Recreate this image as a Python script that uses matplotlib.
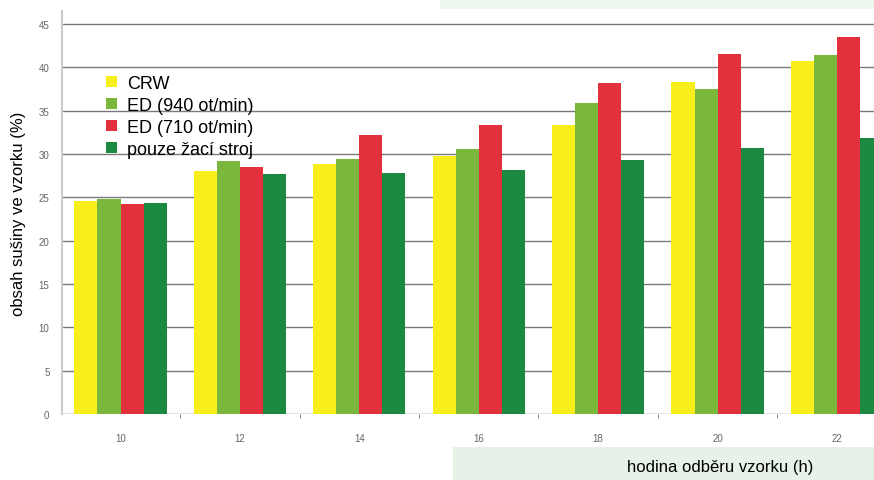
import matplotlib.pyplot as plt
from matplotlib.patches import Rectangle
import numpy as np

# -----------------------------
# DATA
# -----------------------------
hours = ["10", "12", "14", "16", "18", "20", "22"]
crw = [24.6, 28.0, 28.8, 29.8, 33.3, 38.3, 40.7]
ed_940 = [24.8, 29.2, 29.4, 30.6, 35.9, 37.5, 41.4]
ed_710 = [24.2, 28.5, 32.2, 33.3, 38.2, 41.5, 43.5]
zaci_stroj = [24.4, 27.7, 27.8, 28.1, 29.3, 30.7, 31.9]

series = [
    ("CRW", crw, "#f7ee1c"),
    ("ED (940 ot/min)", ed_940, "#79b83c"),
    ("ED (710 ot/min)", ed_710, "#e2303c"),
    ("pouze žací stroj", zaci_stroj, "#1b8a40"),
]
y_ticks = [0, 5, 10, 15, 20, 25, 30, 35, 40, 45]

plt.rcParams["font.family"] = ["Liberation Sans", "DejaVu Sans"]

fig = plt.figure(figsize=(8.74, 4.81), dpi=100)

# light mint panels from the scanned page
fig.patches.append(Rectangle((453 / 874, 0), 1, 33 / 481, transform=fig.transFigure,
                             facecolor="#e6f2e8", edgecolor="none", zorder=0))
fig.patches.append(Rectangle((440 / 874, 1 - 10 / 481), 1, 10 / 481, transform=fig.transFigure,
                             facecolor="#eef6f0", edgecolor="none", zorder=0))

ax = fig.add_axes([62 / 874, 1 - 415 / 481, 1 - 62 / 874, (415 - 12) / 481])
ax.patch.set_alpha(0)

x = np.arange(len(hours))
width = 0.193
for i, (label, vals, color) in enumerate(series):
    ax.bar(x + (i - 1.5) * width, vals, width, color=color, label=label, zorder=3)

ax.set_ylim(0, 46.5)
ax.set_xlim(-0.49, 6.31)
ax.set_yticks(y_ticks)
ax.set_yticklabels([str(v) for v in y_ticks], fontsize=7, color="#666666")
ax.yaxis.grid(True, color="#7a7a7a", linewidth=1.0, zorder=0)
ax.set_axisbelow(True)
ax.tick_params(axis="y", length=0, pad=9)

ax.set_xticks(x)
ax.set_xticklabels(hours, fontsize=7, color="#666666")
ax.tick_params(axis="x", length=0, pad=14)
ax.set_xticks(x[:-1] + 0.5, minor=True)
ax.tick_params(axis="x", which="minor", length=3, color="#777777", direction="out")

for side in ["top", "right", "bottom"]:
    ax.spines[side].set_visible(False)
ax.spines["left"].set_color("#cccccc")
ax.spines["left"].set_linewidth(1.5)

ax.set_ylabel("obsah sušiny ve vzorku (%)", fontsize=12, labelpad=2)
ax.yaxis.set_label_coords(-0.044, 0.5)

fig.text(720 / 874, 1 - 468 / 481, "hodina odběru vzorku (h)", fontsize=12,
         ha="center", va="center")

leg = ax.legend(loc="upper left", bbox_to_anchor=(0.045, 0.86), frameon=False,
                fontsize=13, handlelength=0.6, handleheight=0.6,
                handletextpad=0.6, labelspacing=0.28, borderaxespad=0)

fig.savefig("out.png", dpi=100)
